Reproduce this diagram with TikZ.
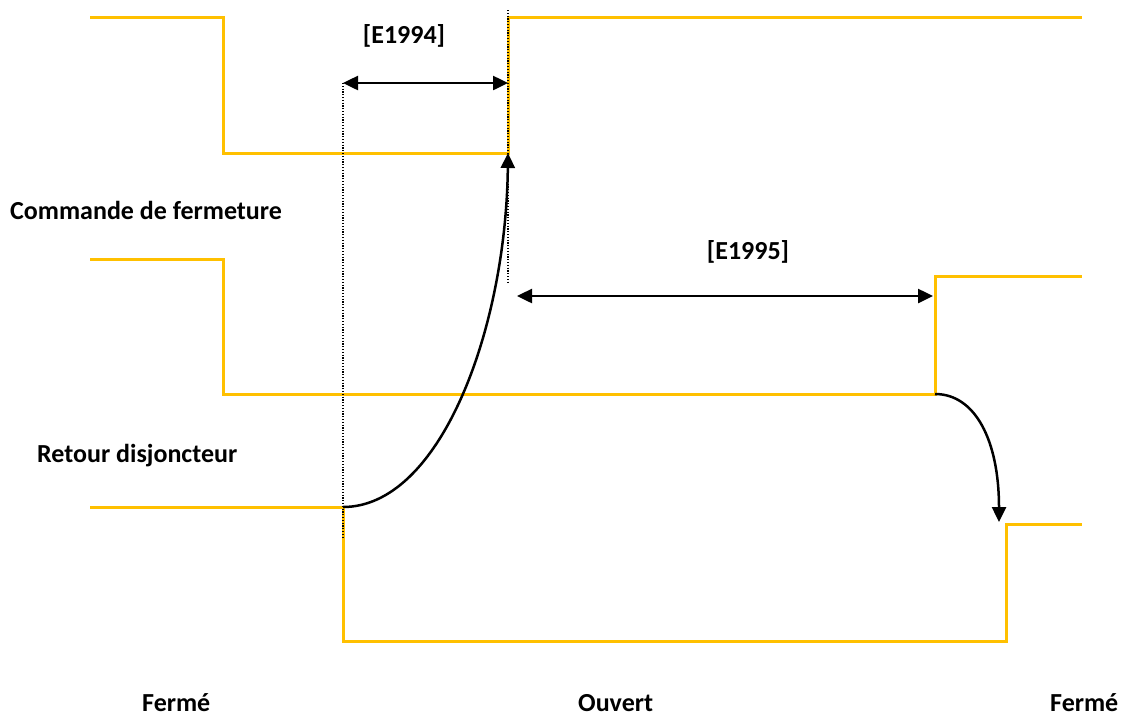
\documentclass[tikz,border=0pt]{standalone}
\usepackage{fontspec}
\setmainfont{Carlito}
\usetikzlibrary{arrows.meta}
\definecolor{sig}{HTML}{FFC000}
\begin{document}
\begin{tikzpicture}[x=1pt,y=-1pt,
  wave/.style={draw=sig, line width=3pt, line join=miter},
  guide/.style={draw=black, line width=1.2pt, dash pattern=on 1.2pt off 1.6pt},
  conn/.style={draw=black, line width=2.5pt, -{Triangle[length=15pt,width=14pt]}},
  dimarrow/.style={draw=black, line width=2.5pt, {Triangle[length=15pt,width=14pt]}-{Triangle[length=15pt,width=14pt]}},
  lbl/.style={font=\fontsize{26}{31}\selectfont\bfseries, inner sep=0pt}]
\useasboundingbox (0,0) rectangle (1124,716);
% waveform 1
\coordinate (a0) at (90,17);
\coordinate (a1) at (223,17);
\coordinate (a2) at (223,153);
\coordinate (a3) at (508,153);
\coordinate (a4) at (508,17);
\coordinate (a5) at (1082,17);
% waveform 2
\coordinate (b0) at (90,259);
\coordinate (b1) at (223,259);
\coordinate (b2) at (223,394);
\coordinate (b3) at (935,394);
\coordinate (b4) at (935,276);
\coordinate (b5) at (1082,276);
% waveform 3
\coordinate (c0) at (90,507);
\coordinate (c1) at (343,507);
\coordinate (c2) at (343,641);
\coordinate (c3) at (1006,641);
\coordinate (c4) at (1006,524);
\coordinate (c5) at (1082,524);
% guides and dimension ends
\coordinate (g1t) at (343,83);
\coordinate (g1b) at (343,537);
\coordinate (g2t) at (508,10);
\coordinate (g2b) at (508,283);
\coordinate (e4r) at (508,83);
\coordinate (e5l) at (517,296);
\coordinate (e5r) at (933,296);
\coordinate (r2) at (999,522);

\draw[wave] (a0) -- (a1) -- (a2) -- (a3) -- (a4) -- (a5);
\draw[wave] (b0) -- (b1) -- (b2) -- (b3) -- (b4) -- (b5);
\draw[wave] (c0) -- (c1) -- (c2) -- (c3) -- (c4) -- (c5);

\draw[guide] (g1t) -- (g1b);
\draw[guide] (g2t) -- (g2b);

\draw[dimarrow] (g1t) -- (e4r);
\draw[dimarrow] (e5l) -- (e5r);

\draw[conn] (c1) .. controls (440,507) and (506,330) .. (a3);
\draw[conn] (b3) .. controls (975,394) and (999,440) .. (r2);

\node[lbl, anchor=base] (t1994) at (404,43) {[E1994]};
\node[lbl, anchor=base] (t1995) at (748,259) {[E1995]};
\node[lbl, anchor=base west] (tcmd) at (10,219) {Commande de fermeture};
\node[lbl, anchor=base west] (tret) at (37,462) {Retour disjoncteur};
\node[lbl, anchor=base west] (tf1) at (142,711) {Fermé};
\node[lbl, anchor=base west] (tou) at (578,711) {Ouvert};
\node[lbl, anchor=base west] (tf2) at (1050,711) {Fermé};
\end{tikzpicture}
\end{document}
